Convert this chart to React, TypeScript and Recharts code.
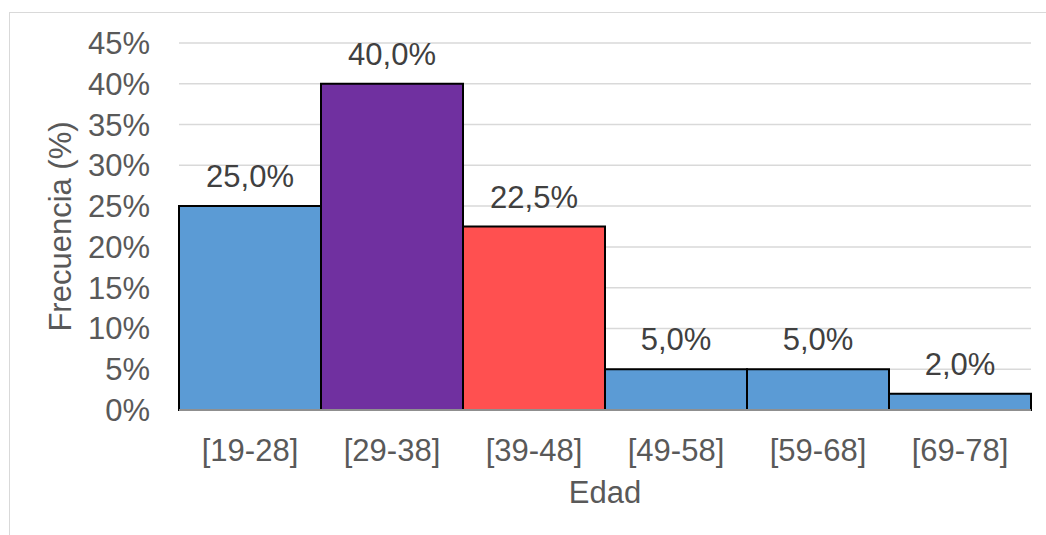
import React from "react";
import { BarChart, Bar, XAxis, YAxis, CartesianGrid, Cell, LabelList, Label } from "recharts";

const categories = ["[19-28]", "[29-38]", "[39-48]", "[49-58]", "[59-68]", "[69-78]"];
const frecuencia = [0.25, 0.4, 0.225, 0.05, 0.05, 0.02];
const yTicks = [0, 0.05, 0.1, 0.15, 0.2, 0.25, 0.3, 0.35, 0.4, 0.45];

const barColors = ["#5B9BD5", "#7030A0", "#FF5050", "#5B9BD5", "#5B9BD5", "#5B9BD5"];
const FONT = "'Liberation Sans', Arial, sans-serif";
const FS = 31;

const data = categories.map((edad, i) => ({ edad, value: frecuencia[i] }));

const pct = (v: number) => `${Math.round(v * 100)}%`;
const pctDec = (v: number) => `${(v * 100).toFixed(1).replace(".", ",")}%`;

export default function App() {
  return (
    <div style={{ position: "fixed", left: 0, top: 0, width: 1046, height: 535, overflow: "hidden", background: "#fff" }}>
      <div
        style={{
          position: "absolute",
          left: 9,
          top: 12,
          width: 2000,
          height: 2000,
          border: "1px solid #d9d9d9",
        }}
      />
      <div style={{ position: "absolute", left: 0, top: 0 }}>
        <BarChart
          width={1046}
          height={535}
          data={data}
          margin={{ top: 43, right: 15, bottom: 32, left: 0 }}
          barCategoryGap={0}
        >
          <CartesianGrid vertical={false} stroke="#d9d9d9" strokeWidth={1.5} />
          <XAxis
            dataKey="edad"
            height={93}
            axisLine={{ stroke: "#bfbfbf", strokeWidth: 1.5 }}
            tickLine={false}
            tickSize={0}
            tickMargin={29}
            tick={{ fill: "#595959", fontSize: FS, fontFamily: FONT }}
          >
            <Label
              value="Edad"
              position="insideBottom"
              offset={0}
              style={{ fill: "#595959", fontSize: FS, fontFamily: FONT }}
            />
          </XAxis>
          <YAxis
            width={179}
            domain={[0, 0.45]}
            ticks={yTicks}
            interval={0}
            tickFormatter={pct}
            axisLine={false}
            tickLine={false}
            tickSize={0}
            tickMargin={29}
            tick={{ fill: "#595959", fontSize: FS, fontFamily: FONT }}
          >
            <Label
              value="Frecuencia (%)"
              angle={-90}
              position="insideLeft"
              offset={60}
              style={{ fill: "#595959", fontSize: FS, fontFamily: FONT, textAnchor: "middle" }}
            />
          </YAxis>
          <Bar dataKey="value" stroke="#000" strokeWidth={2} isAnimationActive={false}>
            {data.map((d, i) => (
              <Cell key={d.edad} fill={barColors[i]} />
            ))}
            <LabelList
              dataKey="value"
              position="top"
              offset={19}
              formatter={(v: any) => pctDec(Number(v))}
              style={{ fill: "#404040", fontSize: FS, fontFamily: FONT }}
            />
          </Bar>
        </BarChart>
      </div>
    </div>
  );
}
